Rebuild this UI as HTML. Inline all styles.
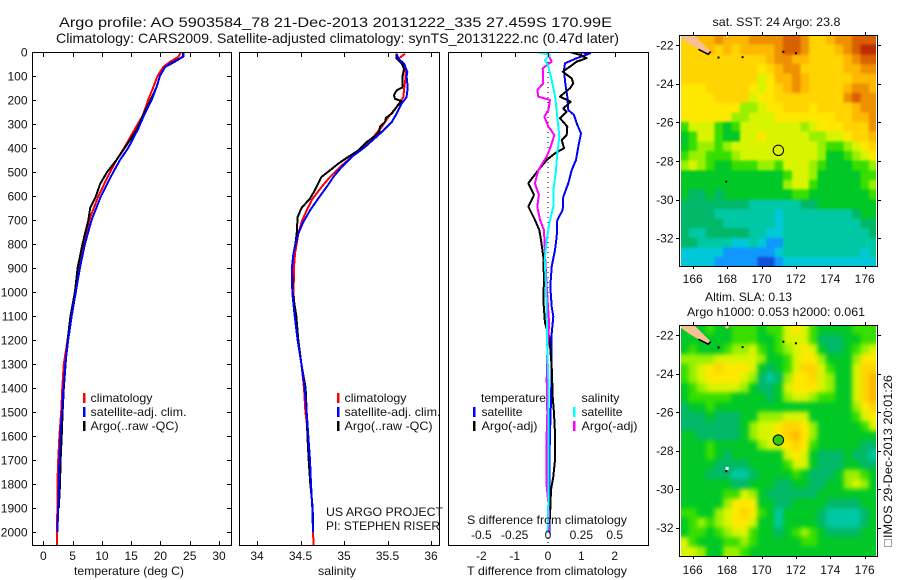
<!DOCTYPE html>
<html lang="en">
<head>
<meta charset="utf-8">
<title>Argo profile chart</title>
<style>
html,body{margin:0;padding:0;background:#fff;}
svg{display:block;}
text{font-family:"Liberation Sans",sans-serif;font-size:12px;fill:#111;}
</style>
</head>
<body>
<svg id="chart" xmlns="http://www.w3.org/2000/svg" width="900" height="580" viewBox="0 0 900 580">
  <defs>
    <clipPath id="clip-top"><rect x="681" y="36" width="195" height="230"/></clipPath>
    <clipPath id="clip-bot"><rect x="681" y="326" width="195" height="230"/></clipPath>
    <clipPath id="clip-p1"><rect x="33" y="53" width="198" height="492"/></clipPath>
    <clipPath id="clip-p2"><rect x="240" y="53" width="199" height="492"/></clipPath>
    <clipPath id="clip-p3"><rect x="449" y="53" width="199" height="492"/></clipPath>
    <filter id="soft-top" x="-5%" y="-5%" width="110%" height="110%" color-interpolation-filters="sRGB">
      <feGaussianBlur in="SourceGraphic" stdDeviation="1.4" result="b"/>
      <feMerge><feMergeNode in="SourceGraphic"/><feMergeNode in="b"/></feMerge>
    </filter>
    <filter id="soft-bot" x="-5%" y="-5%" width="110%" height="110%" color-interpolation-filters="sRGB">
      <feGaussianBlur in="SourceGraphic" stdDeviation="2.4" result="b"/>
      <feMerge><feMergeNode in="SourceGraphic"/><feMergeNode in="b"/></feMerge>
    </filter>
  </defs>

  <text x="59" y="27" style="font-size:14px" textLength="553" lengthAdjust="spacingAndGlyphs">Argo profile: AO 5903584_78 21-Dec-2013 20131222_335 27.459S 170.99E</text>
  <text x="56" y="43" style="font-size:14px" textLength="563" lengthAdjust="spacingAndGlyphs">Climatology: CARS2009. Satellite-adjusted climatology: synTS_20131222.nc (0.47d later)</text>

  <g id="series-layer"></g>

  <rect x="32.5" y="52.5" width="199" height="493" fill="none" stroke="#000"/>
  <rect x="239.5" y="52.5" width="200" height="493" fill="none" stroke="#000"/>
  <rect x="448.5" y="52.5" width="200" height="493" fill="none" stroke="#000"/>
  <g id="axis-layer"></g>

  <text x="74" y="575" textLength="110" lengthAdjust="spacingAndGlyphs">temperature (deg C)</text>
  <text x="318" y="575" textLength="38" lengthAdjust="spacingAndGlyphs">salinity</text>
  <text x="467" y="575" textLength="160" lengthAdjust="spacingAndGlyphs">T difference from climatology</text>
  <text x="467" y="524" textLength="160" lengthAdjust="spacingAndGlyphs">S difference from climatology</text>

  <g>
    <rect x="83" y="393" width="2.5" height="10" fill="#f00"/>
    <rect x="83" y="407" width="2.5" height="10" fill="#00f"/>
    <rect x="83" y="421" width="2.5" height="10" fill="#000"/>
    <text x="90.5" y="402" textLength="62" lengthAdjust="spacingAndGlyphs">climatology</text>
    <text x="90.5" y="416" textLength="96" lengthAdjust="spacingAndGlyphs">satellite-adj. clim.</text>
    <text x="90.5" y="430" textLength="88" lengthAdjust="spacingAndGlyphs">Argo(..raw -QC)</text>
  </g>
  <g>
    <rect x="337" y="393" width="2.5" height="10" fill="#f00"/>
    <rect x="337" y="407" width="2.5" height="10" fill="#00f"/>
    <rect x="337" y="421" width="2.5" height="10" fill="#000"/>
    <text x="344.5" y="402" textLength="62" lengthAdjust="spacingAndGlyphs">climatology</text>
    <text x="344.5" y="416" textLength="96" lengthAdjust="spacingAndGlyphs">satellite-adj. clim.</text>
    <text x="344.5" y="430" textLength="88" lengthAdjust="spacingAndGlyphs">Argo(..raw -QC)</text>
  </g>
  <g>
    <text x="481" y="402" textLength="65" lengthAdjust="spacingAndGlyphs">temperature</text>
    <rect x="473" y="407" width="2.5" height="10" fill="#00f"/>
    <rect x="473" y="421" width="2.5" height="10" fill="#000"/>
    <text x="481.5" y="416" textLength="41" lengthAdjust="spacingAndGlyphs">satellite</text>
    <text x="481.5" y="430" textLength="56" lengthAdjust="spacingAndGlyphs">Argo(-adj)</text>
    <text x="581.5" y="402" textLength="38" lengthAdjust="spacingAndGlyphs">salinity</text>
    <rect x="573" y="407" width="2.5" height="10" fill="#0ff"/>
    <rect x="573" y="421" width="2.5" height="10" fill="#f0f"/>
    <text x="581.5" y="416" textLength="41" lengthAdjust="spacingAndGlyphs">satellite</text>
    <text x="581.5" y="430" textLength="56" lengthAdjust="spacingAndGlyphs">Argo(-adj)</text>
  </g>
  <text x="326" y="516" textLength="117" lengthAdjust="spacingAndGlyphs">US ARGO PROJECT</text>
  <text x="326" y="530" textLength="114" lengthAdjust="spacingAndGlyphs">PI: STEPHEN RISER</text>

  <text x="712.5" y="26" textLength="128" lengthAdjust="spacingAndGlyphs">sat. SST: 24 Argo: 23.8</text>
  <text x="705" y="301" textLength="87" lengthAdjust="spacingAndGlyphs">Altim. SLA: 0.13</text>
  <text x="687" y="316" textLength="178" lengthAdjust="spacingAndGlyphs">Argo h1000: 0.053 h2000: 0.061</text>

  <g id="map-layer"></g>

  <text transform="translate(892,538) rotate(-90)" x="0" y="0" textLength="163" lengthAdjust="spacingAndGlyphs">IMOS 29-Dec-2013 20:01:26</text>
  <rect x="884.5" y="539.5" width="7" height="7" fill="none" stroke="#444" stroke-dasharray="1 1"/>
</svg>

<script>
// ---------- Axis tick values ----------
const depthTicks = [0,100,200,300,400,500,600,700,800,900,1000,1100,1200,1300,1400,1500,1600,1700,1800,1900,2000];
const tempTicks = [0,5,10,15,20,25,30];
const salTicks = [34,34.5,35,35.5,36];
const salTickLabels = ["34","34.5","35","35.5","36"];
const tDiffTicks = [-2,-1,0,1,2];
const sDiffTicks = [-0.5,-0.25,0,0.25,0.5];
const sDiffTickLabels = ["-0.5","-0.25","0","0.25","0.5"];
const lonTicks = [166,168,170,172,174,176];
const latTicks = [-22,-24,-26,-28,-30,-32];

// ---------- Temperature panel ----------
const climTempDepth = [0,10,20,40,62,100,146,200,264,320,400,450,500,600,700,800,900,1000,1100,1200,1300,1400,1500,1600,1700,1800,1900,2000,2054];
const climTemp = [23.3,23.3,23.05,21.7,20.5,19.5,18.8,17.9,17.0,15.65,13.8,12.5,11.4,9.4,7.85,6.95,6.15,5.45,4.7,4.15,3.5,3.25,3.05,2.75,2.55,2.4,2.4,2.3,2.3];
const satTempDepth = [0,20,40,62,100,146,200,264,320,400,450,500,600,700,800,900,1000,1100,1200,1300,1400,1500,1600,1700,1800,1900,2000];
const satTemp = [24.0,23.9,22.2,20.8,19.9,19.35,18.5,17.2,16.2,14.5,13.1,11.95,9.85,8.25,7.1,6.25,5.55,4.85,4.25,3.75,3.45,3.2,2.9,2.75,2.65,2.55,2.4];
const argoTempDepth = [0,20,40,62,100,146,200,264,320,400,450,500,550,600,650,700,800,900,1000,1100,1200,1300,1400,1500,1600,1700,1800,1900];
const argoTemp = [23.9,23.8,22.5,20.8,19.9,19.35,18.3,17.0,16.05,13.9,12.5,10.9,9.7,9.0,8.0,7.7,6.7,5.85,5.4,4.65,4.15,3.8,3.5,3.3,3.15,2.95,2.85,2.65];

// ---------- Salinity panel ----------
const climSalDepth = [7,28,48,70,103,148,188,229,271,312,354,396,437,479,521,562,618,660,708,757,799,840,896,1003,1100,1200,1300,1400,1500,1600,1700,1800,1900,2000,2054];
const climSal = [35.701,35.625,35.663,35.701,35.709,35.693,35.682,35.605,35.51,35.433,35.337,35.222,35.088,34.954,34.839,34.743,34.628,34.571,34.513,34.475,34.456,34.437,34.425,34.421,34.433,34.467,34.51,34.54,34.556,34.59,34.609,34.621,34.636,34.644,34.651];
const satSalDepth = [7,28,48,83,103,148,188,215,257,292,340,396,437,479,521,562,604,660,708,757,840,896,1003,1100,1200,1300,1400,1500,1600,1700,1800,1900,2000];
const satSal = [35.605,35.625,35.69,35.728,35.72,35.732,35.72,35.663,35.605,35.548,35.414,35.241,35.088,34.973,34.877,34.801,34.716,34.609,34.533,34.475,34.418,34.402,34.406,34.433,34.467,34.51,34.548,34.571,34.59,34.609,34.621,34.636,34.644];
const argoSalDepth = [7,28,48,70,100,148,160,180,195,205,229,257,274,292,310,333,351,375,410,437,465,493,520,546,583,611,649,688,757,800,840,896,1003,1100,1200,1300,1400,1500,1600,1700,1800,1900,2000];
const argoSal = [35.605,35.605,35.663,35.69,35.674,35.67,35.605,35.575,35.586,35.663,35.605,35.548,35.483,35.471,35.414,35.406,35.356,35.261,35.165,35.05,34.935,34.839,34.743,34.705,34.655,34.609,34.513,34.467,34.456,34.441,34.418,34.402,34.41,34.452,34.475,34.51,34.559,34.571,34.579,34.594,34.613,34.64,34.644];

// ---------- Difference panel ----------
const tSatDepth = [0,6,26,47,75,131,186,242,262,297,339,394,450,492,547,603,658,700,769,825,894,978,1061,1102,1172,1311,1450,1589,1727,2005];
const tSatDiff = [0.86,1.26,0.86,0.51,0.48,0.52,0.58,0.61,0.78,0.86,0.99,0.91,0.84,0.71,0.61,0.46,0.44,0.28,0.26,0.21,0.11,0.07,0.11,0.16,0.11,0.11,0.09,0.06,0.04,0.04];
const tArgoDepth = [0,12,26,40,61,82,110,131,151,186,207,235,249,276,311,346,367,401,422,450,492,547,596,644,700,742,783,853,950,1033,1130,1186,1311,1436,1505,1589,1700,1769,1825,1936,2005];
const tArgoDiff = [0.66,0.96,1.16,0.86,0.66,0.44,0.71,0.76,0.66,0.36,0.68,0.46,0.56,0.36,0.58,0.56,0.41,0.48,0.21,-0.04,-0.29,-0.59,-0.42,-0.59,-0.39,-0.26,-0.21,-0.14,-0.12,-0.14,-0.09,0.04,0.11,0.14,0.18,0.21,0.21,0.16,0.09,0.06,0.01];
const sSatDepth = [0,12,33,61,117,186,269,353,422,506,575,644,700,783,867,978,1102,1241,1380,1589,1866,2005];
const sSatDiff = [-0.085,0.015,-0.022,0.003,0.028,0.053,0.07,0.085,0.07,0.058,0.04,0.04,0.015,-0.01,-0.025,-0.015,-0.01,-0.005,0.003,0.005,0.003,-0.003];
const sArgoDepth = [0,40,68,131,158,186,200,242,269,311,346,394,436,492,547,596,644,700,742,853,978,1130,1255,1366,1505,1589,1811,1894,2005];
const sArgoDiff = [-0.01,0.028,-0.04,-0.035,-0.08,-0.073,0.015,0.003,-0.028,0.003,0.048,0.02,-0.01,-0.073,-0.098,-0.068,-0.08,-0.06,-0.03,-0.022,-0.01,0.008,-0.005,-0.01,-0.005,-0.01,-0.01,0.005,0.008];
const zeroLineDepth = [0,2054];
const zeroLineDiff = [0,0];

// ---------- SST map levels (index into mapPalette), north to south ----------
const sstGrid = [
[10,10,11,11,12,11,11,11,12,12,12,12,13,13,12,10,10,11,12,12,13,13,13],
[10,10,10,11,10,11,10,11,11,11,11,12,13,13,12,10,10,10,11,12,13,14,14],
[10,10,10,10,10,10,10,10,10,10,11,12,12,11,11,10,10,10,10,11,12,13,13],
[10,10,10,10,10,10,10,10,10,9,10,11,12,12,10,10,10,10,10,11,11,12,12],
[10,10,10,10,10,10,10,10,10,8,9,11,11,12,11,10,10,10,10,10,11,11,11],
[9,9,9,10,10,10,10,10,9,8,9,10,11,12,11,10,10,10,10,11,12,12,11],
[9,9,9,9,10,10,10,10,8,9,9,10,10,10,10,10,10,10,10,12,13,12,12],
[9,9,9,9,9,9,9,7,7,8,9,9,10,10,10,9,10,10,10,10,11,12,12],
[9,9,9,9,9,9,7,7,8,8,8,9,9,9,9,9,9,9,10,10,11,11,12],
[6,8,8,8,6,5,6,8,8,8,8,8,8,8,7,8,9,9,9,10,10,10,12],
[5,6,8,8,6,5,5,8,8,9,8,8,8,8,8,7,7,8,8,9,10,10,11],
[5,6,7,7,6,7,8,8,8,8,8,8,8,8,8,8,7,6,6,7,8,9,10],
[6,7,7,6,6,6,7,8,8,8,8,8,8,8,8,8,7,5,5,6,7,8,9],
[7,8,7,6,5,5,6,6,6,7,7,6,8,8,8,7,6,5,5,5,6,6,7],
[5,5,5,5,5,5,5,5,5,5,5,5,6,8,8,7,5,5,5,5,5,6,6],
[5,5,5,5,5,5,5,5,5,5,5,5,7,8,8,6,5,5,5,5,5,6,7],
[5,4,4,5,4,5,5,5,5,5,5,5,5,6,6,5,5,5,5,5,5,5,6],
[4,4,4,4,4,4,4,4,3,3,3,3,3,3,4,4,5,5,5,5,5,5,5],
[4,4,4,4,3,3,3,3,3,3,3,2,3,3,3,3,3,3,3,3,4,5,5],
[4,4,4,4,4,3,3,3,3,3,3,2,3,3,3,3,3,3,3,3,3,4,4],
[4,3,3,4,4,4,4,4,3,3,2,2,3,3,3,3,3,3,3,3,3,3,4],
[4,4,3,3,3,3,2,2,3,2,1,1,3,3,3,3,3,3,3,3,3,3,3],
[2,2,2,2,2,1,1,1,1,1,1,2,3,3,3,3,3,3,3,3,3,2,3],
[2,2,2,2,1,1,1,1,1,0,0,1,2,2,2,2,2,2,2,2,2,2,2]
];

// ---------- Altimetry SLA map levels, north to south ----------
const slaGrid = [
[5,5,5,6,5,5,6,6,6,5,6,6,8,9,8,6,5,5,5,5,6,6,6],
[5,5,5,5,5,5,6,6,6,5,5,6,8,8,8,6,4,4,4,5,5,6,6],
[5,6,5,5,5,6,7,7,8,6,5,6,7,8,9,8,5,4,4,5,6,7,8],
[7,7,7,7,8,8,8,8,8,7,5,5,6,8,9,9,7,5,5,5,7,9,9],
[6,7,8,9,10,9,9,9,8,5,4,5,6,8,10,10,8,6,5,5,8,10,10],
[6,7,8,9,9,9,9,8,7,4,3,4,7,9,9,10,8,7,5,5,8,10,11],
[5,6,7,8,8,8,8,7,5,4,4,5,8,9,9,9,8,7,5,5,8,10,11],
[5,6,6,6,6,6,5,5,5,5,4,5,7,8,8,7,6,6,5,5,8,10,11],
[4,5,5,6,5,5,5,5,5,5,5,5,5,5,5,5,5,5,5,5,7,9,10],
[4,4,4,5,4,4,4,5,5,7,7,7,8,8,8,5,5,5,5,5,6,8,9],
[4,4,4,4,4,4,4,5,7,8,8,9,10,10,9,7,5,5,5,5,5,6,8],
[5,5,4,4,4,4,4,5,7,8,8,9,10,11,9,7,5,5,5,5,5,5,5],
[5,5,5,6,5,5,5,5,5,7,8,8,9,10,9,6,5,5,5,5,5,4,4],
[5,5,5,6,5,4,5,5,5,5,5,5,8,9,8,5,4,4,4,5,4,4,3],
[5,5,5,5,4,4,4,4,5,5,5,5,6,8,8,5,4,4,4,5,5,4,4],
[5,5,5,4,4,4,3,3,4,5,5,5,5,6,5,4,4,4,5,7,7,6,5],
[5,5,5,5,5,5,4,4,5,5,5,4,4,5,5,4,4,5,5,7,8,7,5],
[5,5,5,5,5,6,6,8,7,5,4,4,4,4,4,4,5,5,5,5,5,5,5],
[5,5,5,5,5,7,9,9,9,5,5,4,4,5,5,5,5,4,4,4,4,5,5],
[6,6,5,5,7,8,9,10,9,6,5,3,5,5,5,5,4,3,3,3,3,4,5],
[5,6,7,6,7,8,9,9,8,5,5,3,5,5,5,5,4,3,3,3,3,4,5],
[5,6,6,5,6,7,8,8,6,5,5,4,5,6,7,6,5,4,4,4,4,5,5],
[8,6,5,5,5,6,6,7,6,5,5,5,5,5,6,6,5,5,5,5,5,5,5],
[8,8,7,5,5,7,7,6,5,5,5,5,5,5,5,5,5,5,5,5,5,5,5]
];

// ---------- Map geography ----------
const gridLonStart = 165.26;
const gridLatStart = -21.48;
const gridStep = 0.5;
const landLon = [165.2,166.04,167.05,166.9,166.33,165.75,165.2];
const landLat = [-21.45,-21.45,-22.34,-22.48,-22.22,-21.91,-21.55];
const isletLon = [168.0];
const isletLat = [-21.57];
const speckLon = [167.5,168.9,171.27,172.0,167.95];
const speckLat = [-22.65,-22.63,-22.35,-22.43,-29.07];
const noDataLon = [168.0];
const noDataLat = [-28.92];
const profileLon = [170.98];
const profileLat = [-27.45];
const mapPalette = ["#1050d8","#1098ff","#00c8d8","#00c8a4","#00b868","#00c826","#38de00","#98f000","#d8f400","#ffe800","#ffd400","#ffb800","#ee9000","#d86000","#bc2c00"];

// ---------- Axis functions ----------
const yDepth = d => 52 + d * 0.24;
const xTemp = t => 43.3 + t * 5.857;
const xSal = s => 257 + (s - 34) * 87;
const xTDiff = t => 548 + t * 33.33;
const xSDiff = s => 548 + s * 133.33;
const xLon = lon => 692.7 + (lon - 166) * 17.2;
const yLatTop = lat => 45 + (-22 - lat) * 19.33;
const yLatBot = lat => 335 + (-22 - lat) * 19.27;

const NS = "http://www.w3.org/2000/svg";
function make(tag, parent, props) {
  const el = document.createElementNS(NS, tag);
  for (const k in props) el.setAttribute(k, props[k]);
  parent.appendChild(el);
  return el;
}
function pathFrom(xs, ys, xf, yf) {
  return xs.map((v, i) => (i ? "L" : "M") + xf(v).toFixed(1) + " " + yf(ys[i]).toFixed(1)).join("");
}

// ---------- Curves ----------
const seriesLayer = document.getElementById("series-layer");
function drawCurve(name, clip, values, depths, xf, color, width, dash) {
  const p = make("path", seriesLayer, {
    d: pathFrom(values, depths, xf, yDepth),
    fill: "none", stroke: color, "stroke-width": width,
    "clip-path": "url(#" + clip + ")",
    "shape-rendering": "crispEdges", "stroke-linejoin": "round"
  });
  if (dash) p.setAttribute("stroke-dasharray", dash);
  
  
}
drawCurve("temperature-climatology-line", "clip-p1", climTemp, climTempDepth, xTemp, "#f00", 2);
drawCurve("temperature-argo-line", "clip-p1", argoTemp, argoTempDepth, xTemp, "#000", 2);
drawCurve("temperature-satellite-line", "clip-p1", satTemp, satTempDepth, xTemp, "#00f", 2);
drawCurve("salinity-climatology-line", "clip-p2", climSal, climSalDepth, xSal, "#f00", 2);
drawCurve("salinity-argo-line", "clip-p2", argoSal, argoSalDepth, xSal, "#000", 2);
drawCurve("salinity-satellite-line", "clip-p2", satSal, satSalDepth, xSal, "#00f", 2);
drawCurve("zero-difference-line", "clip-p3", zeroLineDiff, zeroLineDepth, xTDiff, "#000", 1, "1 4");
drawCurve("t-diff-satellite-line", "clip-p3", tSatDiff, tSatDepth, xTDiff, "#00f", 2);
drawCurve("t-diff-argo-line", "clip-p3", tArgoDiff, tArgoDepth, xTDiff, "#000", 2);
drawCurve("s-diff-argo-line", "clip-p3", sArgoDiff, sArgoDepth, xSDiff, "#f0f", 2);
drawCurve("s-diff-satellite-line", "clip-p3", sSatDiff, sSatDepth, xSDiff, "#0ff", 2);

// ---------- Axes ----------
const axisLayer = document.getElementById("axis-layer");
function tick(x1, y1, x2, y2, name) {
  const t = make("line", axisLayer, {x1, y1, x2, y2, stroke: "#000", "shape-rendering": "crispEdges"});
  
  
}
function label(x, y, str, anchor, name) {
  const t = make("text", axisLayer, {x, y, "text-anchor": anchor});
  t.textContent = str;
  
  
}
depthTicks.forEach(d => {
  const y = Math.round(yDepth(d)) + 0.5;
  tick(32, y, 36, y, "depth-tick-left");
  tick(227, y, 232, y, "depth-tick-right");
  label(27.5, yDepth(d) + 4.3, String(d), "end", "depth-tick-label");
});
tempTicks.forEach(t => {
  const x = Math.round(xTemp(t)) + 0.5;
  tick(x, 53, x, 57, "temperature-tick-top");
  tick(x, 541, x, 545, "temperature-tick-bottom");
  label(xTemp(t), 560, String(t), "middle", "temperature-tick-label");
});
salTicks.forEach((s, i) => {
  const x = Math.round(xSal(s)) + 0.5;
  tick(x, 53, x, 57, "salinity-tick-top");
  tick(x, 541, x, 545, "salinity-tick-bottom");
  label(xSal(s), 560, salTickLabels[i], "middle", "salinity-tick-label");
});
tDiffTicks.forEach(t => {
  const x = Math.round(xTDiff(t)) + 0.5;
  tick(x, 53, x, 57, "t-difference-tick-top");
  label(xTDiff(t), 560, t === 0 ? "0" : String(t), "middle", "t-difference-tick-label");
});
sDiffTicks.forEach((s, i) => {
  label(xSDiff(s), 539, sDiffTickLabels[i], "middle", "s-difference-tick-label");
});

// ---------- Maps ----------
const mapLayer = document.getElementById("map-layer");
function drawMap(prefix, grid, clip, softFilter, yLat, top, bottom, lonLabelY, markerFill, holeLon, holeLat) {
  const clipGroup = make("g", mapLayer, {"clip-path": "url(#" + clip + ")"});
  
  
  const cells = make("g", clipGroup, {filter: "url(#" + softFilter + ")", "shape-rendering": "crispEdges"});
  
  
  grid.forEach((row, r) => {
    row.forEach((level, c) => {
      const lonA = gridLonStart + c * gridStep;
      const latA = gridLatStart - r * gridStep;
      const x0 = xLon(lonA), x1 = xLon(lonA + gridStep);
      const y0 = yLat(latA), y1 = yLat(latA - gridStep);
      const cell = make("rect", cells, {
        x: x0.toFixed(1), y: y0.toFixed(1),
        width: (x1 - x0 + 0.6).toFixed(1), height: (y1 - y0 + 0.6).toFixed(1),
        fill: mapPalette[level]
      });
      
      
    });
  });
  const overlay = make("g", mapLayer, {"clip-path": "url(#" + clip + ")"});
  
  
  const land = make("path", overlay, {
    d: pathFrom(landLon, landLat, xLon, yLat) + "Z",
    fill: "#f8c090", stroke: "none"
  });
  
  
  const shore = make("path", overlay, {
    d: pathFrom(landLon.slice(2, 5), landLat.slice(2, 5), xLon, yLat),
    fill: "none", stroke: "#000", "stroke-width": 1.6
  });
  
  
  isletLon.forEach((lon, i) => {
    const c = make("circle", overlay, {cx: xLon(lon), cy: yLat(isletLat[i]), r: 2, fill: "#f8c090", stroke: "#b08050", "stroke-width": 0.5});
    
    
  });
  holeLon.forEach((lon, i) => {
    const h = make("rect", overlay, {x: xLon(lon) - 1.5, y: yLat(holeLat[i]) - 1.5, width: 3, height: 3, fill: "#fff"});
    
    
  });
  speckLon.forEach((lon, i) => {
    const s = make("rect", overlay, {x: xLon(lon) - 1, y: yLat(speckLat[i]) - 1, width: 2, height: 2, fill: "#000"});
    
    
  });
  const frame = make("rect", mapLayer, {x: 679.5, y: top + 0.5, width: 198, height: bottom - top, fill: "none", stroke: "#000"});
  
  
  lonTicks.forEach(lon => {
    const x = Math.round(xLon(lon)) + 0.5;
    tick(x, top - 3, x, top, prefix + "-lon-tick-top");
    tick(x, bottom, x, bottom + 3, prefix + "-lon-tick-bottom");
    label(xLon(lon), lonLabelY, String(lon), "middle", prefix + "-lon-label");
  });
  latTicks.forEach(lat => {
    const y = Math.round(yLat(lat)) + 0.5;
    tick(676, y, 679, y, prefix + "-lat-tick-left");
    tick(878, y, 881, y, prefix + "-lat-tick-right");
    label(673.5, yLat(lat) + 4.3, String(lat), "end", prefix + "-lat-label");
  });
  const marker = make("circle", mapLayer, {
    cx: xLon(profileLon[0]), cy: yLat(profileLat[0]), r: 5.2,
    fill: markerFill, stroke: "#000", "stroke-width": 1
  });
  
  
}
drawMap("sst-map", sstGrid, "clip-top", "soft-top", yLatTop, 35, 266, 283, "none", [], []);
drawMap("sla-map", slaGrid, "clip-bot", "soft-bot", yLatBot, 325, 556, 574, "#30c810", noDataLon, noDataLat);
</script>
</body>
</html>
